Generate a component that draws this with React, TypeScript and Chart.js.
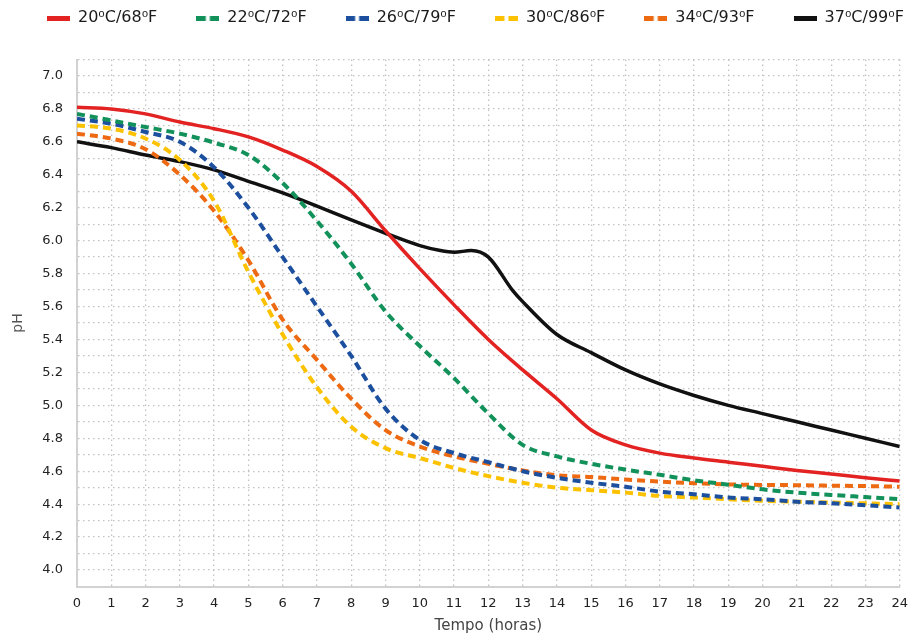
import React, { useEffect, useRef } from 'react';
import { Chart, registerables } from 'chart.js';
Chart.register(...registerables);

const hours = [0, 1, 2, 3, 4, 5, 6, 7, 8, 9, 10, 11, 12, 13, 14, 15, 16, 17, 18, 19, 20, 21, 22, 23, 24];
const hours37 = [0, 1, 2, 3, 4, 5, 6, 7, 8, 9, 10, 10.6, 11, 11.5, 12, 12.7, 13, 14, 15, 16, 17, 18, 19, 20, 21, 22, 23, 24];

const labels = ['20\u2070C/68\u2070F', '22\u2070C/72\u2070F', '26\u2070C/79\u2070F', '30\u2070C/86\u2070F', '34\u2070C/93\u2070F', '37\u2070C/99\u2070F'];
const colors = ['#e32222', '#12915a', '#1d4f9f', '#fcc200', '#ee6a12', '#111111'];

const ph20 = [6.81, 6.8, 6.77, 6.72, 6.68, 6.63, 6.55, 6.45, 6.3, 6.06, 5.83, 5.61, 5.4, 5.215, 5.04, 4.85, 4.76, 4.71, 4.68, 4.655, 4.63, 4.605, 4.583, 4.56, 4.54];
const ph22 = [6.77, 6.73, 6.69, 6.65, 6.595, 6.52, 6.35, 6.12, 5.86, 5.57, 5.36, 5.165, 4.95, 4.76, 4.69, 4.645, 4.61, 4.578, 4.545, 4.518, 4.49, 4.47, 4.456, 4.443, 4.43];
const ph26 = [6.74, 6.71, 6.66, 6.6, 6.445, 6.2, 5.9, 5.6, 5.3, 4.98, 4.79, 4.71, 4.655, 4.6, 4.56, 4.53, 4.506, 4.476, 4.46, 4.44, 4.43, 4.415, 4.405, 4.393, 4.38];
const ph30 = [6.7, 6.68, 6.62, 6.49, 6.24, 5.81, 5.43, 5.11, 4.87, 4.74, 4.68, 4.62, 4.57, 4.53, 4.5, 4.485, 4.47, 4.45, 4.44, 4.43, 4.42, 4.415, 4.41, 4.405, 4.4];
const ph34 = [6.65, 6.62, 6.555, 6.4, 6.18, 5.88, 5.52, 5.276, 5.04, 4.85, 4.75, 4.69, 4.645, 4.605, 4.575, 4.565, 4.55, 4.537, 4.527, 4.52, 4.517, 4.515, 4.512, 4.51, 4.506];
const ph37 = [6.6, 6.565, 6.52, 6.48, 6.43, 6.36, 6.29, 6.21, 6.126, 6.045, 5.97, 5.94, 5.93, 5.94, 5.9, 5.7, 5.63, 5.43, 5.32, 5.215, 5.13, 5.06, 5.0, 4.95, 4.9, 4.85, 4.8, 4.75];

const yTicksMin = 3.9;
const yTicksMax = 7.1;

const FONT = '"DejaVu Sans", sans-serif';
const LEGEND_PAD = 39;

function pts(xs: number[], ys: number[]) {
  return xs.map((x, i) => ({ x, y: ys[i] }));
}

function swatch(color: string, dashed: boolean) {
  const c = document.createElement('canvas');
  c.width = 23;
  c.height = 5;
  const ctx = c.getContext('2d')!;
  ctx.fillStyle = color;
  if (dashed) {
    ctx.fillRect(0, 0, 9.5, 5);
    ctx.fillRect(13.5, 0, 9.5, 5);
  } else {
    ctx.fillRect(0, 0, 23, 5);
  }
  return c;
}

export default function App() {
  const ref = useRef<HTMLCanvasElement>(null);
  useEffect(() => {
    document.body.style.margin = '0';
    const series = [ph20, ph22, ph26, ph30, ph34, ph37];
    const dashed = [false, true, true, true, true, false];
    const swatches = colors.map((c, i) => swatch(c, dashed[i]));
    const datasets = series.map((s, i) => ({
      label: labels[i],
      data: i === 5 ? pts(hours37, s) : pts(hours, s),
      borderColor: colors[i],
      backgroundColor: colors[i],
      borderWidth: dashed[i] ? 4 : 3.5,
      borderDash: dashed[i] ? [8, 5] : [],
      pointRadius: 0,
      cubicInterpolationMode: 'monotone' as const,
      fill: false,
    }));
    const legendPatch = {
      id: 'legendPatch',
      afterInit(chart: any) {
        const lg = chart.legend;
        if (!lg) return;
        const fit = lg.fit.bind(lg);
        lg.fit = function () {
          this.maxWidth = 5000;
          fit();
          this.width = chart.width;
          this.height = 59.5;
        };
      },
      afterLayout(chart: any) {
        const lg = chart.legend;
        if (lg) {
          lg.left = 47 - LEGEND_PAD;
          lg.right = 5000;
          lg.top = 10 - LEGEND_PAD;
          lg.bottom = lg.top + 59.5;
        }
      },
    };
    const chart = new Chart(ref.current!, {
      type: 'line',
      data: { datasets },
      plugins: [legendPatch],
      options: {
        animation: false,
        responsive: false,
        maintainAspectRatio: false,
        layout: { padding: { left: 0, right: 10, top: 0, bottom: 0 } },
        plugins: {
          tooltip: { enabled: false },
          legend: {
            position: 'top',
            align: 'start',
            labels: {
              usePointStyle: true,
              pointStyleWidth: 23,
              boxHeight: 16,
              padding: LEGEND_PAD,
              color: '#1a1a1a',
              font: { family: FONT, size: 16 },
              generateLabels(c: any) {
                const items = Chart.defaults.plugins.legend.labels.generateLabels(c);
                items.forEach((it: any, i: number) => {
                  it.pointStyle = swatches[i];
                  it.lineDash = [];
                  it.lineWidth = 0;
                });
                return items;
              },
            },
          },
        },
        scales: {
          x: {
            type: 'linear',
            min: 0,
            max: 24,
            ticks: { stepSize: 1, padding: 9, color: '#222', font: { family: FONT, size: 13 } },
            grid: { color: '#c2c2c2', lineWidth: 1.3, drawTicks: false },
            border: { display: true, color: '#d2d2d2', width: 2, dash: [1.5, 3.5] },
            title: { display: true, text: 'Tempo (horas)', color: '#444', font: { family: FONT, size: 15 }, padding: { top: 4, bottom: 0 } },
            afterFit(scale: any) {
              scale.height = 48.5;
            },
          },
          y: {
            type: 'linear',
            min: yTicksMin,
            max: yTicksMax,
            ticks: {
              stepSize: 0.1,
              autoSkip: false,
              padding: 14,
              color: '#222',
              font: { family: FONT, size: 13 },
              callback(v: any) {
                const n = Math.round(Number(v) * 10);
                return n % 2 === 0 ? (n / 10).toFixed(1) : '';
              },
            },
            grid: { color: '#c2c2c2', lineWidth: 1.3, drawTicks: false },
            border: { display: true, color: '#d2d2d2', width: 2, dash: [1.5, 3.5] },
            title: { display: true, text: 'pH', color: '#555', font: { family: FONT, size: 14 }, padding: { top: 10, bottom: 0 } },
            afterFit(scale: any) {
              scale.width = 77;
            },
          },
        },
      },
    });
    return () => chart.destroy();
  }, []);
  return <canvas ref={ref} width={917} height={635} style={{ display: 'block' }} />;
}
